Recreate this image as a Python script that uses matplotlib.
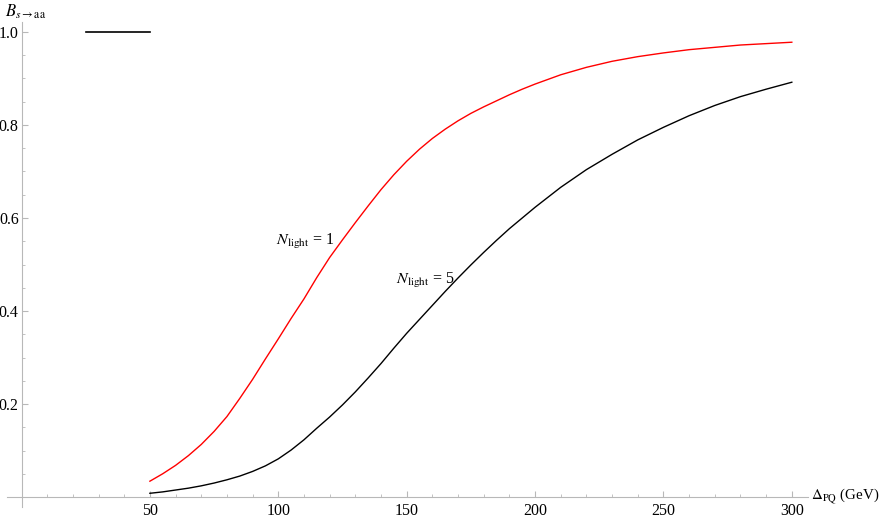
import numpy as np
import matplotlib
matplotlib.use("Agg")
import matplotlib.pyplot as plt
import matplotlib.ticker as ticker

plt.rcParams['font.family'] = ['Liberation Serif', 'DejaVu Serif']
plt.rcParams['mathtext.fontset'] = 'stix'

# values
delta = [50, 55, 60, 65, 70, 75, 80, 85, 90, 95, 100, 105, 110, 115, 120, 125, 130, 135, 140,
         145, 150, 155, 160, 165, 170, 175, 180, 185, 190, 195, 200, 210, 220, 230, 240, 250,
         260, 270, 280, 290, 300]
b_light1 = [0.034, 0.050, 0.068, 0.089, 0.113, 0.141, 0.173, 0.212, 0.253, 0.297, 0.340, 0.384,
            0.426, 0.472, 0.515, 0.553, 0.590, 0.626, 0.661, 0.693, 0.722, 0.748, 0.771, 0.791,
            0.809, 0.825, 0.839, 0.852, 0.865, 0.877, 0.888, 0.908, 0.924, 0.937, 0.947, 0.955,
            0.962, 0.967, 0.972, 0.975, 0.978]
b_light5 = [0.008, 0.011, 0.015, 0.019, 0.024, 0.030, 0.037, 0.045, 0.055, 0.067, 0.082, 0.101,
            0.123, 0.148, 0.172, 0.198, 0.226, 0.256, 0.287, 0.320, 0.352, 0.382, 0.412, 0.442,
            0.471, 0.499, 0.526, 0.552, 0.577, 0.600, 0.623, 0.666, 0.704, 0.737, 0.768, 0.795,
            0.820, 0.842, 0.861, 0.877, 0.892]

stub_x = [25, 50]
stub_y = [1.0, 1.0]

fig = plt.figure(figsize=(8.84, 5.17), dpi=100)
ax = fig.add_axes([7/884, 10/517, 801/884, 485/517])

ax.plot(delta, b_light1, color='#ff0000', lw=1.0)
ax.plot(delta, b_light5, color='black', lw=1.0)
ax.plot(stub_x, stub_y, color='black', lw=1.2)

ax.set_xlim(-5.65, 306.3)
ax.set_ylim(-0.0215, 1.0215)

for s in ['top', 'right']:
    ax.spines[s].set_visible(False)
for s in ['left', 'bottom']:
    ax.spines[s].set_position(('data', 0))
    ax.spines[s].set_color('#b8b8b8')
    ax.spines[s].set_linewidth(0.8)

ax.xaxis.set_major_locator(ticker.FixedLocator([50, 100, 150, 200, 250, 300]))
ax.xaxis.set_minor_locator(ticker.MultipleLocator(10))
ax.yaxis.set_major_locator(ticker.FixedLocator([0.2, 0.4, 0.6, 0.8, 1.0]))
ax.yaxis.set_minor_locator(ticker.MultipleLocator(0.05))
ax.yaxis.set_major_formatter(ticker.FormatStrFormatter('%.1f'))
ax.tick_params(which='major', direction='in', length=4, color='#b8b8b8', labelsize=11.5)
ax.tick_params(which='minor', direction='in', length=2, color='#b8b8b8')
ax.tick_params(axis='y', pad=2)
ax.tick_params(axis='x', pad=4)

ax.text(-6.6, 1.024, r'$B_{s\rightarrow\mathrm{aa}}$', fontsize=12, ha='left', va='bottom')
ax.text(307.6, 0.0, r'$\Delta_{\mathrm{PQ}}$ (GeV)', fontsize=10.8, ha='left', va='center', clip_on=False)

ax.text(99, 0.55, r'$N_{\mathrm{light}}$ = 1', fontsize=11.5, ha='left', va='center')
ax.text(146, 0.465, r'$N_{\mathrm{light}}$ = 5', fontsize=11.5, ha='left', va='center')

fig.savefig('out.png', dpi=100)
